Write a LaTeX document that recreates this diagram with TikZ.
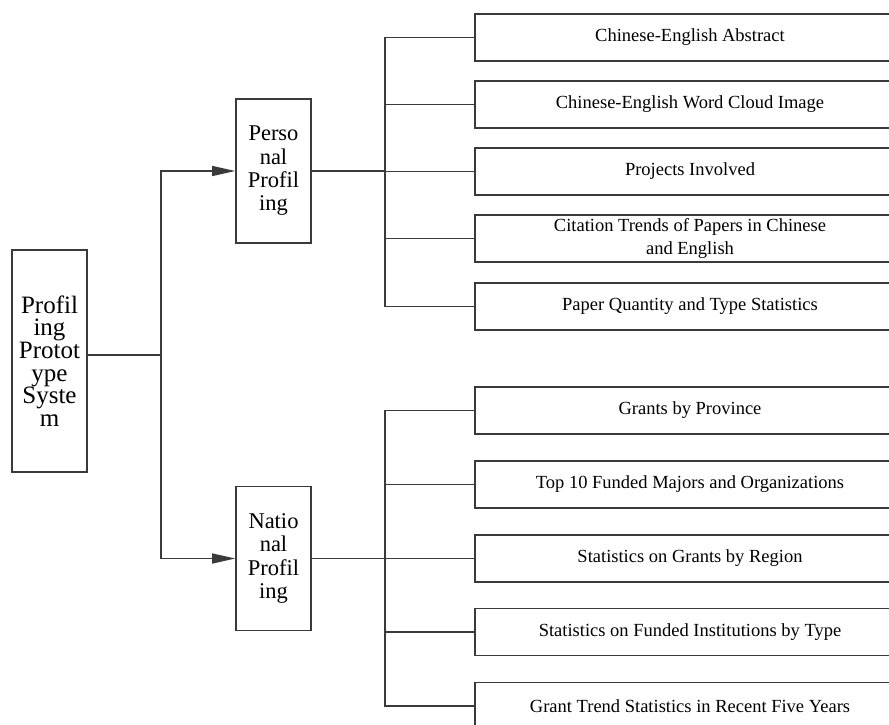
\documentclass[tikz,border=0pt]{standalone}
\usepackage{fontspec}
\setmainfont{Liberation Serif}
\usetikzlibrary{positioning,arrows.meta,calc}
\definecolor{edge}{HTML}{3A3A3A}
\tikzset{
  sysbox/.style={rectangle,draw=edge,line width=1.6pt,align=center,inner sep=0pt,minimum width=75pt,minimum height=222pt,font=\fontsize{25}{22.7}\selectfont},
  catbox/.style={rectangle,draw=edge,line width=1.6pt,align=center,inner sep=0pt,minimum width=75pt,minimum height=144pt,font=\fontsize{22.5}{23.3}\selectfont},
  itembox/.style={rectangle,draw=edge,line width=1.6pt,align=center,inner sep=0pt,minimum width=430pt,minimum height=47pt,font=\fontsize{18.5}{23}\selectfont},
  link/.style={draw=edge,line width=1.2pt},
  flow/.style={-{Triangle[length=23pt,width=10pt]},draw=edge,line width=1.2pt},
}
\begin{document}
\begin{tikzpicture}[x=1pt,y=-1pt]
  \useasboundingbox (0,0) rectangle (889,724);
  \clip (0,0) rectangle (889,724);
  % left: the whole system
  \node[sysbox] (sys) at (49.5,361) {Profil\\ing\\Protot\\ype\\Syste\\m};
  % middle: two kinds of profiling
  \node[catbox] (pers) at (273.5,171) {Perso\\nal\\Profil\\ing};
  \node[catbox] (nat) at (273.5,558.5) {Natio\\nal\\Profil\\ing};
  % right: personal items
  \node[itembox] (p1) at (690,37.5) {Chinese-English Abstract};
  \node[itembox] (p2) at (690,104.5) {Chinese-English Word Cloud Image};
  \node[itembox] (p3) at (690,171.5) {Projects Involved};
  \node[itembox] (p4) at (690,238.5) {Citation Trends of Papers in Chinese\\and English};
  \node[itembox] (p5) at (690,306.5) {Paper Quantity and Type Statistics};
  % right: national items
  \node[itembox] (n1) at (690,410.5) {Grants by Province};
  \node[itembox] (n2) at (690,484.5) {Top 10 Funded Majors and Organizations};
  \node[itembox] (n3) at (690,558.5) {Statistics on Grants by Region};
  \node[itembox] (n4) at (690,632) {Statistics on Funded Institutions by Type};
  \node[itembox] (n5) at (690,706) {Grant Trend Statistics in Recent Five Years};
  % connectors
  \coordinate (hub) at (161,355);
  \coordinate (pj) at (385,171);
  \coordinate (nj) at (385,558.5);
  \draw[link] (sys.east |- hub) -- (hub);
  \draw[flow] (hub) |- (pers.west);\draw[flow] (hub) |- (nat.west);
  \draw[link] (pers.east) -- (pj);\draw[link] (nat.east) -- (nj);
  \foreach \i in {1,...,5} {
    \draw[link] (pj) |- (p\i.west);
    \draw[link] (nj) |- (n\i.west);
  }
\end{tikzpicture}
\end{document}
